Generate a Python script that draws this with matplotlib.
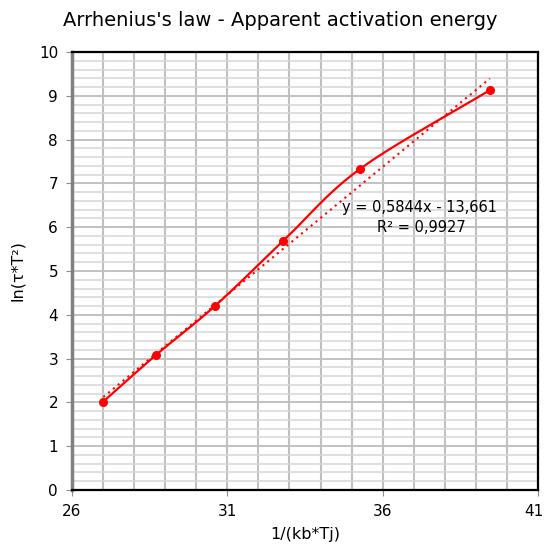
import numpy as np
import matplotlib.pyplot as plt
import matplotlib.transforms as mtransforms

# data
inv_kT = [27.01, 28.70, 30.60, 32.79, 35.27, 39.45]
ln_tauT2 = [2.02, 3.08, 4.20, 5.68, 7.33, 9.13]
pente = 0.5844
ordonnee = -13.661
r2 = 0.9927

x_ticks = [26, 31, 36, 41]
y_ticks = list(range(0, 11))


def catmull_rom(xs, ys, n=40):
    # smoothed line like the spreadsheet one
    p = np.column_stack([xs, ys])
    p = np.vstack([2 * p[0] - p[1], p, 2 * p[-1] - p[-2]])
    out = []
    for i in range(1, len(p) - 2):
        p0, p1, p2, p3 = p[i - 1], p[i], p[i + 1], p[i + 2]
        t = np.linspace(0, 1, n)[:, None]
        seg = 0.5 * ((2 * p1) + (-p0 + p2) * t
                     + (2 * p0 - 5 * p1 + 4 * p2 - p3) * t ** 2
                     + (-p0 + 3 * p1 - 3 * p2 + p3) * t ** 3)
        out.append(seg)
    out = np.vstack(out)
    return out[:, 0], out[:, 1]


plt.rcParams['font.family'] = ['DejaVu Sans']

fig = plt.figure(figsize=(5.44, 5.49), dpi=100)
ax = fig.add_axes([72 / 544, 59 / 549, 466 / 544, 438 / 549])

ax.set_xlim(26, 41)
ax.set_ylim(0, 10)

# grille
for xv in np.arange(26, 41.01, 1):
    ax.axvline(xv, color='#c0c0c0', lw=1.5, zorder=0)
for yv in np.arange(0, 10.01, 0.2):
    major = abs(yv - round(yv)) < 1e-6
    ax.axhline(yv, color='#bdbdbd' if major else '#d6d6d6', lw=1.3 if major else 1.1, zorder=0)

sx, sy = catmull_rom(inv_kT, ln_tauT2)
ax.plot(sx, sy, color='#ff0000', lw=1.6, zorder=3)
ax.plot(inv_kT, ln_tauT2, 'o', color='#ff0000', ms=5.5, zorder=4)

xt = np.array([inv_kT[0], inv_kT[-1]])
ax.plot(xt, pente * xt + ordonnee, color='#ff0000', lw=1.5, ls=(0, (1, 2)), zorder=2)

ax.text(37.2, 6.45, "y = 0,5844x - 13,661", ha='center', va='center', fontsize=10.5)
ax.text(37.25, 6.0, "R² = 0,9927", ha='center', va='center', fontsize=10.5)

ax.set_xticks(x_ticks)
ax.set_yticks(y_ticks)
ax.tick_params(axis='both', direction='out', length=4, color='#8c8c8c', labelsize=11, pad=6)

# le dernier label touche le bord, on le décale un peu
dernier = ax.get_xticklabels()[-1]
dernier.set_transform(dernier.get_transform() + mtransforms.ScaledTranslation(-4 / 100, 0, fig.dpi_scale_trans))

for s in ['top', 'right', 'bottom']:
    ax.spines[s].set_color('black')
    ax.spines[s].set_linewidth(1.6)
ax.spines['left'].set_color('#808080')
ax.spines['left'].set_linewidth(2.5)

ax.set_xlabel("1/(kb*Tj)", fontsize=11.5, labelpad=6)
ax.set_ylabel("ln(τ*T²)", fontsize=11.5, labelpad=10)
fig.text(0.515, 0.963, "Arrhenius's law - Apparent activation energy", ha='center', va='center', fontsize=14)

fig.savefig("out.png", dpi=100)
